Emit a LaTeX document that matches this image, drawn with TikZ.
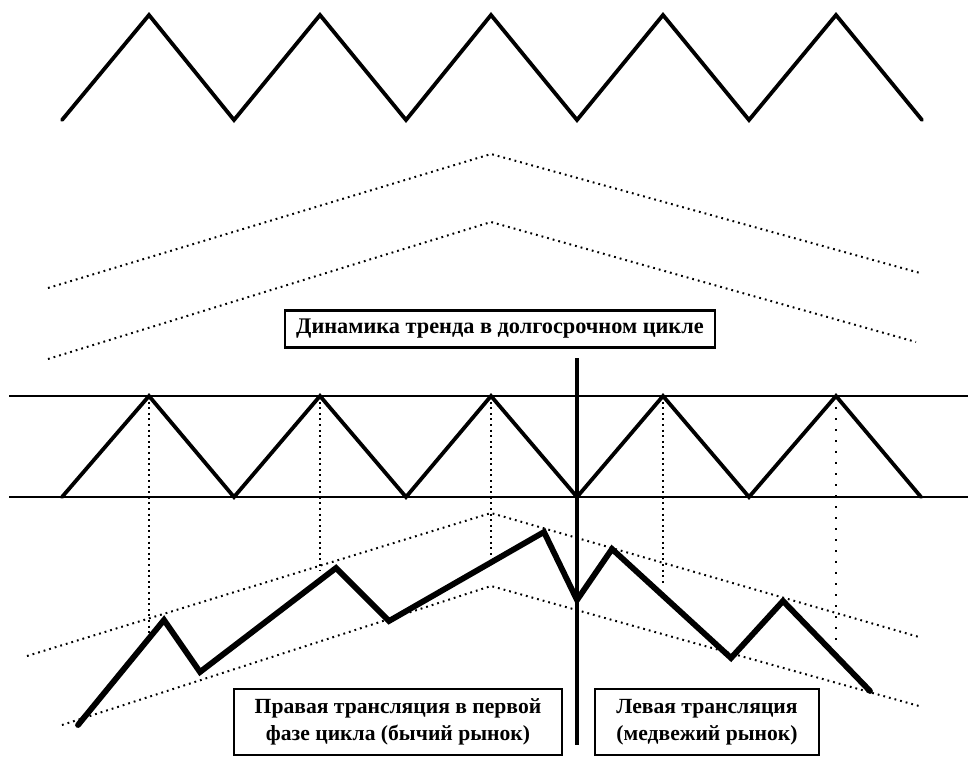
\documentclass[tikz,border=0pt]{standalone}
\usepackage{fontspec}
\setmainfont{Liberation Serif}
\begin{document}
\begin{tikzpicture}[x=1pt,y=-1pt,
  zig/.style={line width=3.8pt, line join=miter, line cap=round},
  rule/.style={line width=2.8pt},
  trend/.style={line width=5.8pt, line join=miter, line cap=round},
  divider/.style={line width=4pt},
  dots/.style={line width=2pt, dash pattern=on 1.8pt off 4pt},
  drop/.style={line width=1.6pt, dash pattern=on 2pt off 3.6pt},
  sparse/.style={line width=1.6pt, dash pattern=on 2pt off 9pt},
  labelbox/.style={draw, line width=2.8pt, inner sep=0pt, align=center, font=\bfseries\fontsize{21.6}{27}\selectfont}]
\useasboundingbox (0,0) rectangle (968,758);
% top zigzag
\draw[zig] (62,120) -- (149,15) -- (234,120) -- (320,15) -- (406,120) -- (491,15) -- (577,120) -- (663,15) -- (749,120) -- (836,15) -- (922,120);
% upper dotted channel
\draw[dots] (48,288) -- (491,154) -- (920,273);
\draw[dots] (48,359) -- (491,222) -- (916,342);
% box 1
\node[labelbox, minimum width=430pt, minimum height=37pt] (b1) at (500,329) {\fontsize{22.3}{27}\selectfont Динамика тренда в долгосрочном цикле};
% horizontal rules
\coordinate (hl1) at (9,396); \coordinate (hr1) at (968,396);
\coordinate (hl2) at (9,497); \coordinate (hr2) at (968,497);
\draw[rule] (hl1) -- (hr1);
\draw[rule] (hl2) -- (hr2);
% drop lines
\draw[drop] (149,396) -- (149,633);
\draw[drop] (320,396) -- (320,570);
\draw[drop] (491,396) -- (491,557);
\draw[drop] (663,396) -- (663,583);
\draw[sparse] (836,396) -- (836,640);
% middle zigzag
\draw[zig] (62,497) -- (149,396) -- (234,497) -- (320,396) -- (406,497) -- (491,396) -- (577,497) -- (663,396) -- (749,497) -- (836,396) -- (921,497);
% lower dotted channel
\draw[dots] (27,656) -- (491,513) -- (919,637);
\draw[dots] (62,725) -- (491,586) -- (919,706);
% trend path
\draw[trend] (78,725) -- (164,620) -- (200,672) -- (336,568) -- (389,621) -- (544,532) -- (577,600) -- (612,549) -- (731,658) -- (783,601) -- (870,691);
% vertical divider
\coordinate (vt) at (577,358); \coordinate (vb) at (577,745);
\draw[divider] (vt) -- (vb);
% bottom boxes
\node[labelbox, minimum width=328pt, minimum height=66pt] (b2) at (398,722) {Правая трансляция в первой\\фазе цикла (бычий рынок)};
\node[labelbox, minimum width=224pt, minimum height=66pt] (b3) at (707,722) {Левая трансляция\\(медвежий рынок)};
\end{tikzpicture}
\end{document}
